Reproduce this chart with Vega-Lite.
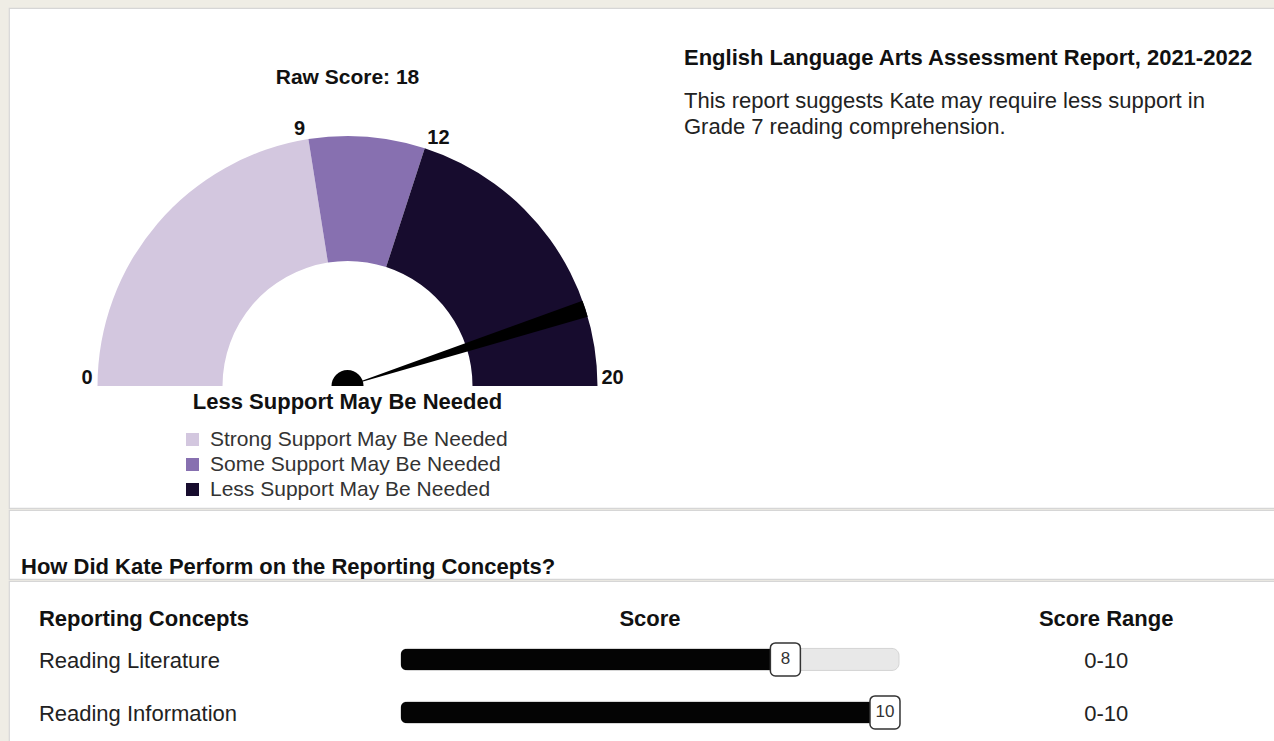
{
  "$schema": "https://vega.github.io/schema/vega-lite/v6.json",
  "background": "#efede5",
  "padding": {"left": 8, "top": 7, "right": 0, "bottom": 0},
  "spacing": 0,
  "config": {
    "view": {"fill": "white", "stroke": "#d6d6d6", "strokeWidth": 1.2},
    "font": "Liberation Sans"
  },
  "datasets": {
    "bands": [
      {"band": "Strong Support May Be Needed", "from": 0, "to": 9},
      {"band": "Some Support May Be Needed", "from": 9, "to": 12},
      {"band": "Less Support May Be Needed", "from": 12, "to": 20}
    ],
    "gauge": [
      {"score": 18, "min": 0, "max": 20, "result": "Less Support May Be Needed"}
    ],
    "ticks": [{"v": 0}, {"v": 9}, {"v": 12}, {"v": 20}],
    "concepts": [
      {"concept": "Reading Literature", "score": 8, "min": 0, "max": 10, "range": "0-10"},
      {"concept": "Reading Information", "score": 10, "min": 0, "max": 10, "range": "0-10"}
    ]
  },
  "vconcat": [
    {
      "width": 1266,
      "height": 500,
      "encoding": {
        "x": {"datum": 0, "type": "quantitative", "scale": {"domain": [-1.354, 3.71], "nice": false, "zero": false}, "axis": null},
        "y": {"datum": 0, "type": "quantitative", "scale": {"domain": [-0.488, 1.512], "nice": false, "zero": false}, "axis": null}
      },
      "layer": [
        {
          "data": {"name": "bands"},
          "mark": {"type": "arc", "radius": 250, "radius2": 125},
          "encoding": {
            "theta": {"field": "from", "type": "quantitative", "stack": null, "scale": {"domain": [0, 20], "range": [-1.5708, 1.5708]}},
            "theta2": {"field": "to"},
            "color": {
              "field": "band", "type": "nominal",
              "scale": {"domain": ["Strong Support May Be Needed", "Some Support May Be Needed", "Less Support May Be Needed"], "range": ["#d3c7df", "#8770b0", "#170c2e"]},
              "legend": {
                "orient": "none", "legendX": 173, "legendY": 421, "title": null,
                "symbolType": "square", "symbolSize": 169, "symbolStrokeWidth": 0, "symbolOpacity": 1,
                "labelFont": "Liberation Sans", "labelFontSize": 21, "labelColor": "#333", "labelLimit": 0,
                "rowPadding": 3, "labelOffset": 7, "padding": 0
              }
            }
          }
        },
        {
          "data": {"name": "gauge"},
          "mark": {"type": "arc", "radius": 250, "radius2": 0, "thetaOffset": -0.034, "theta2Offset": 0.034, "color": "#000"},
          "encoding": {
            "theta": {"field": "score", "type": "quantitative", "stack": null, "scale": {"domain": [0, 20], "range": [-1.5708, 1.5708]}},
            "theta2": {"field": "score"}
          }
        },
        {
          "data": {"name": "gauge"},
          "mark": {"type": "arc", "radius": 16, "color": "#000"},
          "encoding": {
            "theta": {"field": "min", "type": "quantitative", "stack": null, "scale": {"domain": [0, 20], "range": [-1.5708, 1.5708]}},
            "theta2": {"field": "max"}
          }
        },
        {
          "data": {"name": "ticks"},
          "transform": [{"filter": "datum.v < 10"}],
          "mark": {"type": "text", "radius": 252, "align": "right", "baseline": "alphabetic", "dy": -2, "dx": -3, "fontWeight": "bold", "fontSize": 20, "color": "#111"},
          "encoding": {
            "theta": {"field": "v", "type": "quantitative", "scale": {"domain": [0, 20], "range": [-1.5708, 1.5708]}},
            "text": {"field": "v", "type": "quantitative"}
          }
        },
        {
          "data": {"name": "ticks"},
          "transform": [{"filter": "datum.v > 10"}],
          "mark": {"type": "text", "radius": 252, "align": "left", "baseline": "alphabetic", "dy": -2, "dx": 2, "fontWeight": "bold", "fontSize": 20, "color": "#111"},
          "encoding": {
            "theta": {"field": "v", "type": "quantitative", "scale": {"domain": [0, 20], "range": [-1.5708, 1.5708]}},
            "text": {"field": "v", "type": "quantitative"}
          }
        },
        {
          "data": {"name": "gauge"},
          "mark": {"type": "text", "baseline": "middle", "fontWeight": "bold", "fontSize": 21, "color": "#111"},
          "encoding": {
            "y": {"datum": 1.232, "type": "quantitative", "scale": {"domain": [-0.488, 1.512], "nice": false, "zero": false}, "axis": null},
            "text": {"value": "Raw Score: 18"}
          }
        },
        {
          "data": {"name": "gauge"},
          "mark": {"type": "text", "baseline": "middle", "fontWeight": "bold", "fontSize": 22, "color": "#111"},
          "encoding": {
            "y": {"datum": -0.062, "type": "quantitative", "scale": {"domain": [-0.488, 1.512], "nice": false, "zero": false}, "axis": null},
            "text": {"field": "result"}
          }
        },
        {
          "data": {"name": "gauge"},
          "mark": {"type": "text", "align": "left", "baseline": "middle", "fontWeight": "bold", "fontSize": 22, "color": "#111"},
          "encoding": {
            "x": {"datum": 1.346, "type": "quantitative", "scale": {"domain": [-1.354, 3.71], "nice": false, "zero": false}, "axis": null},
            "y": {"datum": 1.312, "type": "quantitative", "scale": {"domain": [-0.488, 1.512], "nice": false, "zero": false}, "axis": null},
            "text": {"value": "English Language Arts Assessment Report, 2021-2022"}
          }
        },
        {
          "data": {"name": "gauge"},
          "mark": {"type": "text", "align": "left", "baseline": "top", "fontSize": 22, "lineHeight": 26, "color": "#222"},
          "encoding": {
            "x": {"datum": 1.346, "type": "quantitative", "scale": {"domain": [-1.354, 3.71], "nice": false, "zero": false}, "axis": null},
            "y": {"datum": 1.18, "type": "quantitative", "scale": {"domain": [-0.488, 1.512], "nice": false, "zero": false}, "axis": null},
            "text": {"value": ["This report suggests Kate may require less support in", "Grade 7 reading comprehension."]}
          }
        }
      ]
    },
    {
      "width": 1266,
      "height": 69,
      "data": {"values": [{}]},
      "mark": {"type": "text", "align": "left", "baseline": "middle", "dx": 12, "fontSize": 22, "fontWeight": "bold", "color": "#111"},
      "encoding": {
        "x": {"datum": 0, "type": "quantitative", "scale": {"domain": [0, 1], "nice": false}, "axis": null},
        "y": {"datum": 0.17, "type": "quantitative", "scale": {"domain": [0, 1], "nice": false}, "axis": null},
        "text": {"value": "How Did Kate Perform on the Reporting Concepts?"}
      }
    },
    {
      "width": 1266,
      "height": 165,
      "data": {"name": "concepts"},
      "encoding": {
        "y": {"field": "concept", "type": "nominal", "sort": null, "scale": {"domain": ["Reading Literature", "Reading Information"], "paddingInner": 0, "paddingOuter": 0.557, "align": 0.88}, "axis": null}
      },
      "layer": [
        {
          "mark": {"type": "bar", "height": 22, "cornerRadius": 7, "color": "#e8e8e8", "stroke": "#d4d4d4", "strokeWidth": 1},
          "encoding": {
            "x": {"field": "min", "type": "quantitative", "scale": {"domain": [-7.87, 17.55], "nice": false, "zero": false}, "axis": null},
            "x2": {"field": "max"}
          }
        },
        {
          "mark": {"type": "bar", "height": 21, "cornerRadius": 5, "color": "#040404"},
          "encoding": {
            "x": {"field": "min", "type": "quantitative", "scale": {"domain": [-7.87, 17.55], "nice": false, "zero": false}, "axis": null},
            "x2": {"field": "score"}
          }
        },
        {
          "mark": {"type": "rect", "width": 30, "height": 33, "cornerRadius": 5, "fill": "white", "stroke": "#333", "strokeWidth": 1.5, "xOffset": -14},
          "encoding": {
            "x": {"field": "score", "type": "quantitative", "scale": {"domain": [-7.87, 17.55], "nice": false, "zero": false}, "axis": null}
          }
        },
        {
          "mark": {"type": "text", "dx": -14, "fontSize": 17, "color": "#333"},
          "encoding": {
            "x": {"field": "score", "type": "quantitative", "scale": {"domain": [-7.87, 17.55], "nice": false, "zero": false}, "axis": null},
            "text": {"field": "score", "type": "quantitative"}
          }
        },
        {
          "mark": {"type": "text", "align": "left", "dy": 2, "fontSize": 22, "color": "#222"},
          "encoding": {
            "x": {"datum": -7.27, "type": "quantitative", "scale": {"domain": [-7.87, 17.55], "nice": false, "zero": false}, "axis": null},
            "text": {"field": "concept"}
          }
        },
        {
          "mark": {"type": "text", "align": "center", "dy": 2, "fontSize": 22, "color": "#222"},
          "encoding": {
            "x": {"datum": 14.16, "type": "quantitative", "scale": {"domain": [-7.87, 17.55], "nice": false, "zero": false}, "axis": null},
            "text": {"field": "range"}
          }
        },
        {
          "data": {"values": [{}]},
          "mark": {"type": "text", "align": "left", "dy": -40, "fontSize": 22, "fontWeight": "bold", "color": "#111"},
          "encoding": {
            "x": {"datum": -7.27, "type": "quantitative", "scale": {"domain": [-7.87, 17.55], "nice": false, "zero": false}, "axis": null},
            "y": {"datum": "Reading Literature", "type": "nominal"},
            "text": {"value": "Reporting Concepts"}
          }
        },
        {
          "data": {"values": [{}]},
          "mark": {"type": "text", "align": "center", "dy": -40, "fontSize": 22, "fontWeight": "bold", "color": "#111"},
          "encoding": {
            "x": {"datum": 5, "type": "quantitative", "scale": {"domain": [-7.87, 17.55], "nice": false, "zero": false}, "axis": null},
            "y": {"datum": "Reading Literature", "type": "nominal"},
            "text": {"value": "Score"}
          }
        },
        {
          "data": {"values": [{}]},
          "mark": {"type": "text", "align": "center", "dy": -40, "fontSize": 22, "fontWeight": "bold", "color": "#111"},
          "encoding": {
            "x": {"datum": 14.16, "type": "quantitative", "scale": {"domain": [-7.87, 17.55], "nice": false, "zero": false}, "axis": null},
            "y": {"datum": "Reading Literature", "type": "nominal"},
            "text": {"value": "Score Range"}
          }
        }
      ]
    }
  ]
}
